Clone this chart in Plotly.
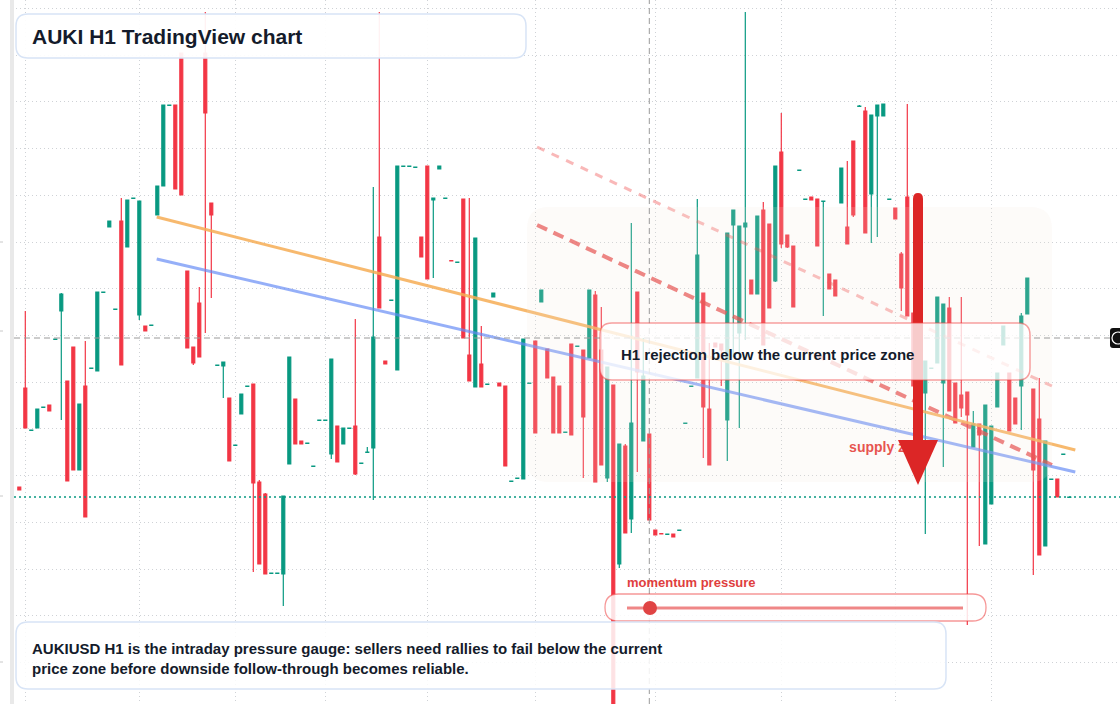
import plotly.graph_objects as go

# ---------------- data (prices in pips of 0.0001 USD) ----------------
PIP = 1e-4
candle_index = list(range(176))

open_pips = [
    313, 412, 369.5, 372, 392.5, 395, 460.5, 489, 419, 453,
    330, 414, 431.5, 429, 507.5, 573, 490.5, 579, 553, 601.5,
    485, 474, 474.5, 585, 614, 694.5, 695, 747, 529, 453,
    497, 747, 597, 434.5, 434, 402, 354.5, 386, 413.5, 416,
    318, 306, 226.5, 226.5, 226, 336, 401, 359, 356.5, 333.5,
    379.5, 379.5, 346, 374, 356, 371.5, 374, 336.5, 347.5, 352,
    563, 439, 499.5, 430, 633.5, 633.5, 632.5, 563, 634, 600,
    631, 601.5, 539.5, 537.5, 601, 445, 413, 436, 415.5, 503,
    417, 414, 318.5, 321.5, 321, 416.5, 459, 498, 451, 423,
    414, 367.5, 456, 453.5, 450, 442, 505, 450, 322, 415,
    236, 354, 281, 508, 359, 366, 270, 266.5, 265.5, 266,
    269.5, 376.5, 413.5, 422, 507, 391, 457, 456, 380, 575,
    467, 573, 520, 506, 590, 576, 519, 648, 565, 554,
    629.5, 600.5, 603, 601, 598.5, 526, 520, 597, 573, 659,
    693.5, 689, 606, 684, 684, 600.5, 592, 546, 603, 487,
    470, 407, 431.5, 437, 417, 492, 417, 405, 408, 353,
    376, 256, 296, 393, 455, 427, 402, 414, 486, 411,
    381, 254, 320.5, 321, 345.5, 302.5,
]
close_pips = [
    310, 372, 370, 391, 393, 389, 461, 506, 319, 330,
    396, 283, 432, 508, 508, 579, 491, 435, 600, 602,
    599, 469, 475, 614, 695, 695, 611, 605, 452, 437,
    443, 687, 585, 435, 438, 339, 355, 406, 414, 317,
    236, 226, 227, 227, 304, 443, 356, 356, 357, 334,
    380, 380, 441, 338, 372, 372, 326, 337, 348, 463,
    492, 436, 500, 634, 634, 634, 633, 543, 521, 602,
    634, 602, 539, 538, 462, 419, 562, 413, 416, 507,
    414, 334, 319, 322, 461, 417, 367, 510, 422, 367,
    367, 368, 365, 454, 383, 510, 318, 335, 433, 88,
    356, 267, 377, 428, 424, 280, 265, 266, 266, 263,
    270, 377, 414, 545, 393, 335, 453, 450, 567, 590,
    574, 577, 506, 584, 455, 492, 634, 556, 553, 493,
    630, 601, 600, 554, 599, 511, 504, 632, 556, 585,
    694, 567, 685, 695, 696, 601, 581, 512, 484, 414,
    430, 439, 432, 503, 496, 389, 377, 392, 385, 376,
    365, 395, 374, 427, 474, 369, 376, 484, 522, 330,
    245, 359, 321, 303, 346, 303,
]
high_pips = [
    313, 489, 370, 391, 393, 395, 461, 507, 419, 453,
    396, 459, 432, 508, 508, 579, 491, 602, 600, 602,
    599, 474, 475, 614, 695, 695, 695, 747, 529, 453,
    513, 788, 597, 435, 438, 402, 355, 406, 414, 416,
    320, 307, 227, 227, 304, 443, 401, 359, 357, 334,
    380, 380, 441, 374, 372, 372, 481, 337, 353, 613,
    788, 439, 500, 634, 634, 634, 633, 563, 634, 602,
    634, 602, 539.5, 538, 601, 602, 562, 474, 416, 507,
    417, 414, 319, 322, 461, 417, 459, 510, 451, 423,
    414, 368, 456, 454, 450, 510, 509, 493, 433, 415,
    356, 356, 577, 508, 462, 366, 270, 266.5, 266, 266,
    270, 377, 414, 601, 507, 457, 457, 456, 567, 590,
    574, 788, 520, 584, 598, 576, 634, 687, 565, 554,
    630, 601, 603, 601, 599, 526, 520, 632, 639, 659,
    695, 693, 685, 695, 696, 601, 592, 548, 696, 487,
    470, 439, 432, 503, 496, 503, 417, 503, 408, 389,
    376, 395, 374, 427, 474, 427, 402, 487, 522, 411,
    422, 359, 321, 321, 346, 303,
]
low_pips = [
    310, 372, 369.5, 372, 392.5, 389, 460.5, 380, 319, 330,
    330, 283, 431.5, 429, 507.5, 573, 490.5, 435, 553, 601.5,
    480, 469, 474.5, 585, 614, 694.5, 611, 605, 452, 435,
    443, 467, 502, 434.5, 402, 339, 354.5, 386, 413.5, 228,
    236, 226, 226.5, 226.5, 194, 336, 356, 356, 356.5, 333.5,
    379.5, 379.5, 341, 338, 356, 371.5, 325, 336.5, 347.5, 300,
    492, 436, 499.5, 430, 633.5, 633.5, 632.5, 543, 521, 522,
    631, 601.5, 539, 537.5, 462, 419, 413, 413, 415.5, 503,
    414, 334, 318.5, 321.5, 321, 416.5, 367, 498, 422, 367,
    367, 367.5, 365, 453.5, 322, 442, 318, 335, 318, 88,
    232, 267, 267, 328, 359, 280, 265, 266, 265.5, 263,
    269.5, 376.5, 413.5, 422, 342, 335, 453, 414, 339, 443,
    372, 460, 506, 506, 455, 492, 518, 552, 552, 493,
    629.5, 600.5, 600, 554, 484, 511, 504, 597, 556, 583,
    693.5, 567, 557, 563, 684, 600.5, 581, 489, 484, 414,
    430, 266, 431.5, 437, 333, 389, 377, 383, 175, 353,
    254, 256, 296, 393, 455, 369, 376, 370, 486, 225,
    245, 254, 320.5, 303, 345.5, 302.5,
]

# drawn study lines: [start, end] in candle index / pips
orange_idx, orange_pips = [22.9, 176.0], [583, 350]
blue_idx, blue_pips = [22.9, 176.0], [541, 328]
red_idx, red_pips = [86.3, 172.1], [575, 335]
pink_idx, pink_pips = [86.3, 172.1], [653, 414]

current_price_pips = 303
crosshair_idx = 105
crosshair_pips = 462
time_grid_idx = [1, 20, 36, 51, 68, 86, 106, 127, 146, 162]
axis_mark_pips = [558, 469, 304, 138]
supply_label_idx, supply_label_pips = 138.3, 352

# ---------------- figure ----------------
W, H = 1120, 704
UP, DOWN = "#089981", "#F23645"
FONT = "Liberation Sans, Arial, sans-serif"
GRID = "#cfd2d6"

def p(v):
    return v * PIP

def px(x):
    return x / W

def py(y):
    return 1 - y / H

def rrect(x0, y0, x1, y1, r):
    pts = [
        ("M", [(x0 + r, y0)]), ("L", [(x1 - r, y0)]), ("Q", [(x1, y0), (x1, y0 + r)]),
        ("L", [(x1, y1 - r)]), ("Q", [(x1, y1), (x1 - r, y1)]), ("L", [(x0 + r, y1)]),
        ("Q", [(x0, y1), (x0, y1 - r)]), ("L", [(x0, y0 + r)]), ("Q", [(x0, y0), (x0 + r, y0)]),
    ]
    s = ""
    for cmd, pp in pts:
        s += cmd + " " + " ".join(f"{px(a):.5f},{py(b):.5f}" for a, b in pp) + " "
    return s + "Z"

fig = go.Figure()

fig.add_trace(go.Candlestick(
    x=candle_index,
    open=[p(v) for v in open_pips], high=[p(v) for v in high_pips],
    low=[p(v) for v in low_pips], close=[p(v) for v in close_pips],
    increasing=dict(line=dict(color=UP, width=1.2), fillcolor=UP),
    decreasing=dict(line=dict(color=DOWN, width=1.2), fillcolor=DOWN),
    whiskerwidth=0, hoverinfo="skip", showlegend=False,
))

fig.add_trace(go.Scatter(x=pink_idx, y=[p(v) for v in pink_pips], mode="lines",
                         line=dict(color="rgba(239,68,68,0.38)", width=3, dash="8px,8px"),
                         hoverinfo="skip", showlegend=False))
fig.add_trace(go.Scatter(x=red_idx, y=[p(v) for v in red_pips], mode="lines",
                         line=dict(color="rgba(229,62,62,0.72)", width=4, dash="11px,7px"),
                         hoverinfo="skip", showlegend=False))
fig.add_trace(go.Scatter(x=orange_idx, y=[p(v) for v in orange_pips], mode="lines",
                         line=dict(color="rgba(246,173,85,0.85)", width=3),
                         hoverinfo="skip", showlegend=False))
fig.add_trace(go.Scatter(x=blue_idx, y=[p(v) for v in blue_pips], mode="lines",
                         line=dict(color="rgba(99,137,245,0.68)", width=3),
                         hoverinfo="skip", showlegend=False))
fig.add_trace(go.Scatter(x=[supply_label_idx], y=[p(supply_label_pips)], mode="text",
                         text=["supply zone"], textposition="middle right",
                         textfont=dict(family=FONT, size=14, color="#e53935", weight="bold"),
                         hoverinfo="skip", showlegend=False))

shapes = []
# left gutter
shapes.append(dict(type="rect", xref="paper", yref="paper", x0=0, x1=px(10), y0=0, y1=1,
                   fillcolor="white", line=dict(width=0), layer="above"))
shapes.append(dict(type="rect", xref="paper", yref="paper", x0=px(10), x1=px(14), y0=0, y1=1,
                   fillcolor="#e9e9e9", line=dict(width=0), layer="above"))
for v in axis_mark_pips:
    shapes.append(dict(type="line", xref="paper", yref="y", x0=0, x1=px(3), y0=p(v), y1=p(v),
                       line=dict(color="#c8c8c8", width=1), layer="above"))
# supply zone
shapes.append(dict(type="path", xref="paper", yref="paper", path=rrect(527, 207, 1052, 482, 22),
                   fillcolor="rgba(242,228,215,0.16)", line=dict(width=0), layer="above"))
# current price line
shapes.append(dict(type="line", xref="paper", yref="y", x0=px(14), x1=1,
                   y0=p(current_price_pips), y1=p(current_price_pips),
                   line=dict(color=UP, width=1.5, dash="2px,3px"), layer="above"))
# crosshair
shapes.append(dict(type="line", xref="x", yref="paper", x0=crosshair_idx, x1=crosshair_idx,
                   y0=0, y1=1, line=dict(color="#9a9a9a", width=1, dash="6px,4px"), layer="above"))
shapes.append(dict(type="line", xref="paper", yref="y", x0=px(14), x1=px(1110),
                   y0=p(crosshair_pips), y1=p(crosshair_pips),
                   line=dict(color="#9a9a9a", width=1, dash="6px,4px"), layer="above"))
# price label at right edge
shapes.append(dict(type="path", xref="paper", yref="paper", path=rrect(1110, 328, 1128, 348, 3),
                   fillcolor="#111111", line=dict(width=0), layer="above"))
shapes.append(dict(type="circle", xref="paper", yref="paper", x0=px(1112), x1=px(1124),
                   y0=py(344), y1=py(332), line=dict(color="white", width=1.2),
                   fillcolor="#111111", layer="above"))
# big arrow
shapes.append(dict(type="path", xref="paper", yref="paper",
                   path=(f"M {px(913):.5f},{py(442):.5f} L {px(913):.5f},{py(199):.5f} "
                         f"Q {px(913):.5f},{py(193):.5f} {px(918):.5f},{py(193):.5f} "
                         f"Q {px(923):.5f},{py(193):.5f} {px(923):.5f},{py(199):.5f} "
                         f"L {px(923):.5f},{py(442):.5f} Z"),
                   fillcolor="#dc2626", line=dict(width=0), layer="above"))
shapes.append(dict(type="path", xref="paper", yref="paper",
                   path=(f"M {px(898):.5f},{py(440):.5f} L {px(938):.5f},{py(440):.5f} "
                         f"L {px(918):.5f},{py(485):.5f} Z"),
                   fillcolor="#dc2626", line=dict(width=0), layer="above"))
# H1 rejection box
shapes.append(dict(type="path", xref="paper", yref="paper", path=rrect(600, 323, 1030, 380, 12),
                   fillcolor="rgba(255,255,255,0.76)", line=dict(color="rgba(239,68,68,0.5)", width=1.5),
                   layer="above"))
# momentum slider
shapes.append(dict(type="path", xref="paper", yref="paper", path=rrect(605, 594, 986, 621, 13.5),
                   fillcolor="rgba(255,255,255,0.85)", line=dict(color="rgba(239,68,68,0.55)", width=1.3),
                   layer="above"))
shapes.append(dict(type="line", xref="paper", yref="paper", x0=px(627), x1=px(963), y0=py(608), y1=py(608),
                   line=dict(color="rgba(229,62,62,0.62)", width=3), layer="above"))
shapes.append(dict(type="circle", xref="paper", yref="paper", x0=px(643), x1=px(657), y0=py(615), y1=py(601),
                   fillcolor="#e04444", line=dict(width=0), layer="above"))
# title box & note box
shapes.append(dict(type="path", xref="paper", yref="paper", path=rrect(16, 14, 526, 58, 12),
                   fillcolor="rgba(255,255,255,0.93)", line=dict(color="#d8e4f6", width=1.5), layer="above"))
shapes.append(dict(type="path", xref="paper", yref="paper", path=rrect(16, 622, 946, 689, 12),
                   fillcolor="rgba(255,255,255,0.86)", line=dict(color="#d8e4f6", width=1.5), layer="above"))

annotations = [
    dict(xref="paper", yref="paper", x=px(30), y=py(36), xanchor="left", yanchor="middle",
         text="AUKI H1 TradingView chart", showarrow=False,
         font=dict(family=FONT, size=21, color="#141b2b", weight="bold")),
    dict(xref="paper", yref="paper", x=px(30), y=py(658), xanchor="left", yanchor="middle", align="left",
         text=("AUKIUSD H1 is the intraday pressure gauge: sellers need rallies to fail below the current<br>"
               "price zone before downside follow-through becomes reliable."), showarrow=False,
         font=dict(family=FONT, size=15, color="#141b2b", weight="bold")),
    dict(xref="paper", yref="paper", x=px(619), y=py(354), xanchor="left", yanchor="middle",
         text="H1 rejection below the current price zone", showarrow=False,
         font=dict(family=FONT, size=15, color="#141b2b", weight="bold")),
    dict(xref="paper", yref="paper", x=px(625), y=py(582), xanchor="left", yanchor="middle",
         text="momentum pressure", showarrow=False,
         font=dict(family=FONT, size=13, color="#e03e3e", weight="bold")),
]

fig.update_layout(
    width=W, height=H, margin=dict(l=0, r=0, t=0, b=0),
    paper_bgcolor="white", plot_bgcolor="white",
    showlegend=False, boxgap=0.3,
    shapes=shapes, annotations=annotations,
    xaxis=dict(range=[-19.3 / 6, (W - 19.3) / 6], rangeslider=dict(visible=False),
               tickmode="array", tickvals=time_grid_idx, showticklabels=False, ticks="",
               showgrid=True, gridcolor=GRID, griddash="1px,3px", gridwidth=1,
               zeroline=False, showline=False, fixedrange=True),
    yaxis=dict(range=[p(96), p(800)], tick0=0.07917, dtick=0.004674, showticklabels=False, ticks="",
               showgrid=True, gridcolor=GRID, griddash="1px,3px", gridwidth=1,
               zeroline=False, showline=False, fixedrange=True),
)

fig.write_html("out.html", config={"displayModeBar": False})
